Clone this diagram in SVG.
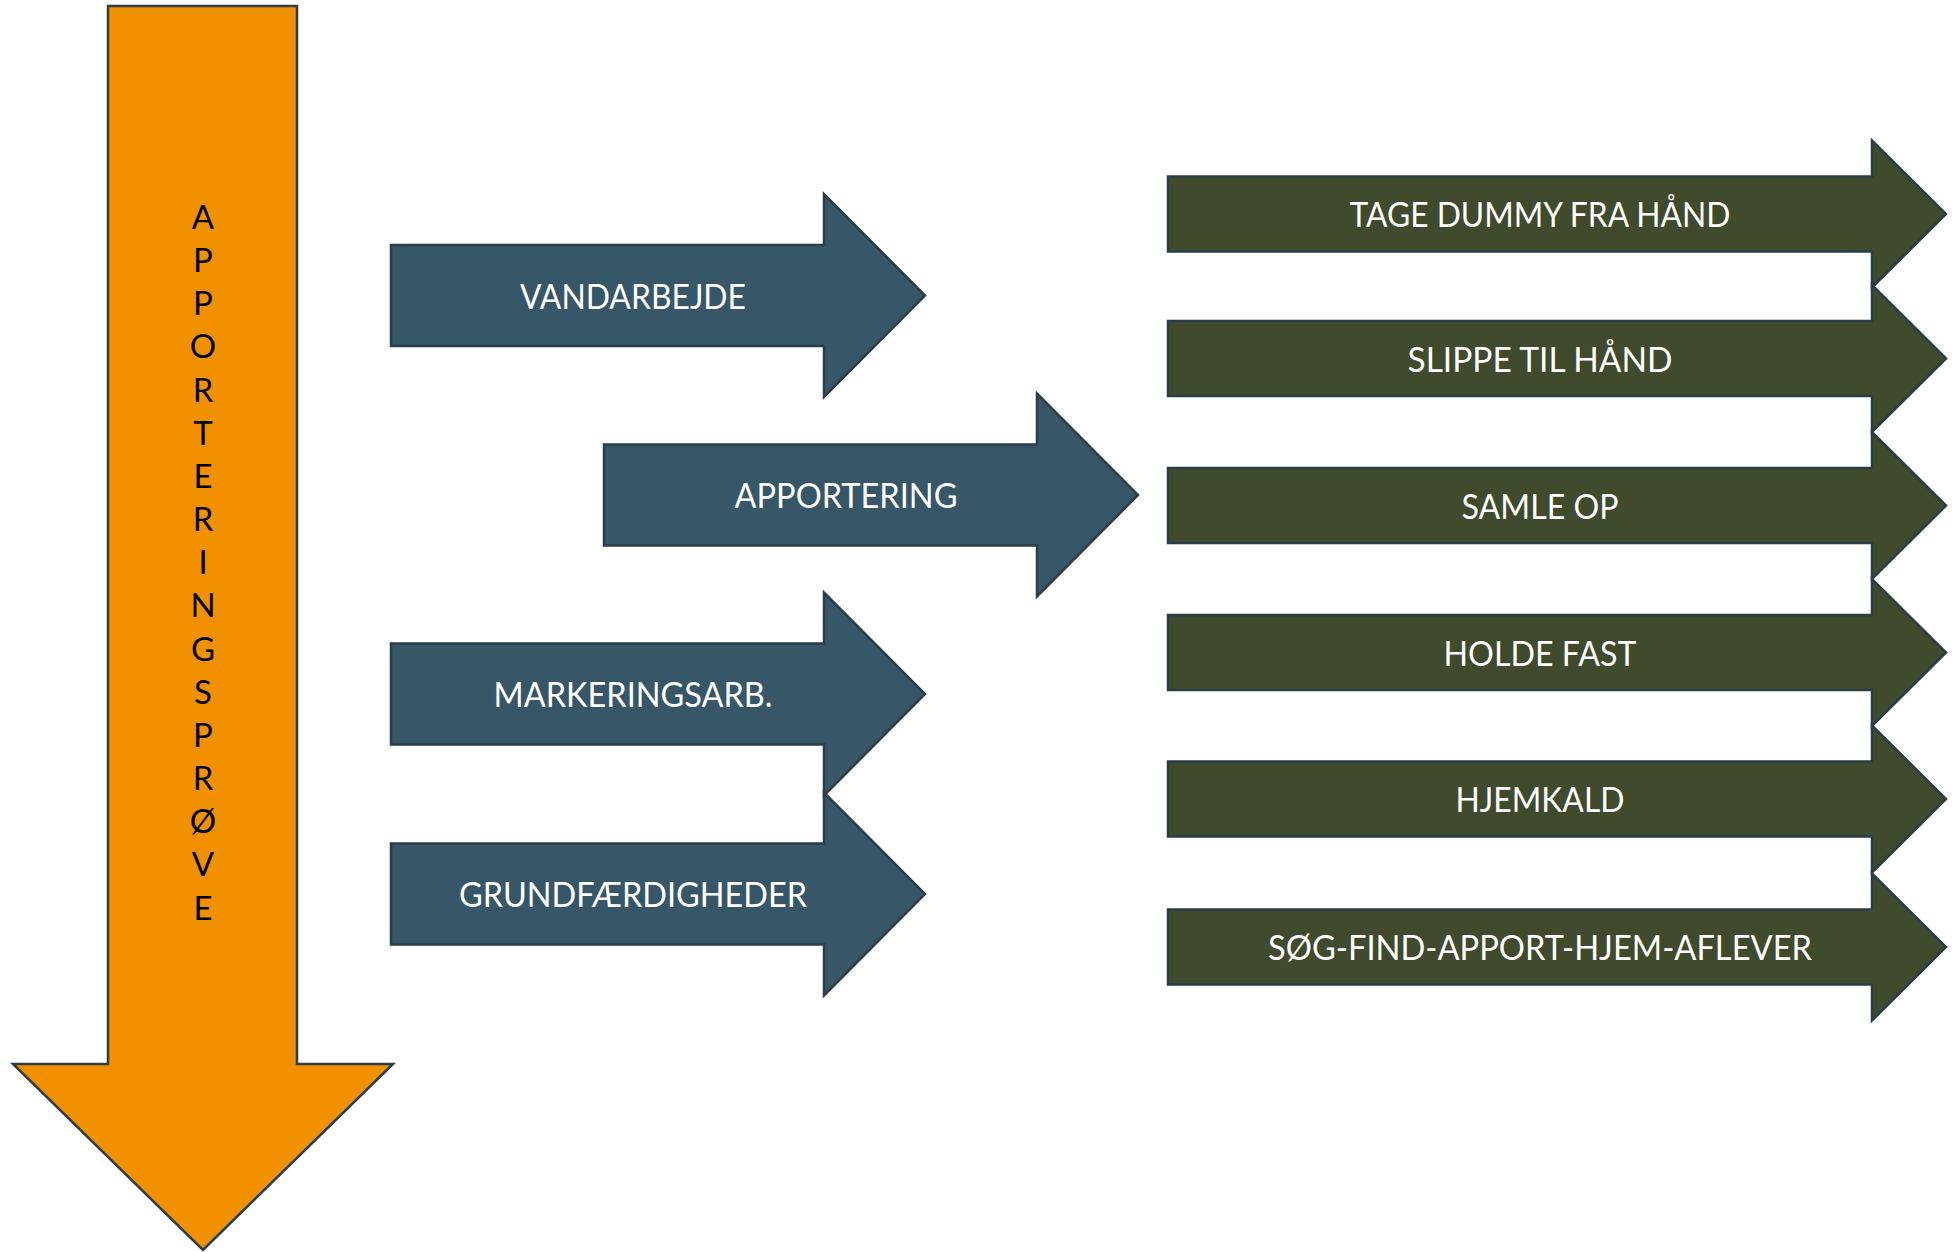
<svg xmlns="http://www.w3.org/2000/svg" xmlns:xlink="http://www.w3.org/1999/xlink" width="1952" height="1252" viewBox="0 0 1952 1252">
<style>
.shape{stroke:#2b3d48;stroke-width:2.5;stroke-linejoin:miter}
.blue{fill:#375768}
.green{fill:#404a2c}
.orange{fill:#f29100}
.lbl{font-family:Lato,"Open Sans","Liberation Sans",sans-serif;fill:#ffffff;text-anchor:middle}
.blbl{font-size:35px}
.glbl{font-size:34px}
.vlbl{font-family:Lato,"Open Sans","Liberation Sans",sans-serif;font-size:33px;fill:#000000;text-anchor:middle}
</style>
<defs>
<path id="blueArrow" d="M0,-50.5 H433 V-101.5 L534,0 L433,101.5 V50.5 H0 Z"/>
<path id="greenArrow" d="M0,-37.5 H704 V-73.5 L778,0 L704,73.5 V37.5 H0 Z"/>
</defs>
<g id="connectors"></g>
<g id="apporteringsprove">
<path class="shape orange" d="M108,6 H297 V1064 H393 L203,1250 L13,1064 H108 Z"/>
<text class="vlbl"><tspan x="203" y="229">A</tspan><tspan x="203" dy="43.16">P</tspan><tspan x="203" dy="43.16">P</tspan><tspan x="203" dy="43.16">O</tspan><tspan x="203" dy="43.16">R</tspan><tspan x="203" dy="43.16">T</tspan><tspan x="203" dy="43.16">E</tspan><tspan x="203" dy="43.16">R</tspan><tspan x="203" dy="43.16">I</tspan><tspan x="203" dy="43.16">N</tspan><tspan x="203" dy="43.16">G</tspan><tspan x="203" dy="43.16">S</tspan><tspan x="203" dy="43.16">P</tspan><tspan x="203" dy="43.16">R</tspan><tspan x="203" dy="43.16">Ø</tspan><tspan x="203" dy="43.16">V</tspan><tspan x="203" dy="43.16">E</tspan></text>
</g>
<g id="vandarbejde">
<use href="#blueArrow" xlink:href="#blueArrow" class="shape blue" x="391" y="295.5"/>
<text class="lbl blbl" x="633" y="308.5" textLength="226" lengthAdjust="spacingAndGlyphs">VANDARBEJDE</text>
</g>
<g id="apportering">
<use href="#blueArrow" xlink:href="#blueArrow" class="shape blue" x="604" y="495"/>
<text class="lbl blbl" x="846" y="508" textLength="223" lengthAdjust="spacingAndGlyphs">APPORTERING</text>
</g>
<g id="markeringsarb">
<use href="#blueArrow" xlink:href="#blueArrow" class="shape blue" x="391" y="694"/>
<text class="lbl blbl" x="633" y="707" textLength="279" lengthAdjust="spacingAndGlyphs">MARKERINGSARB.</text>
</g>
<g id="grundfaerdigheder">
<use href="#blueArrow" xlink:href="#blueArrow" class="shape blue" x="391" y="894"/>
<text class="lbl blbl" x="633" y="907" textLength="348" lengthAdjust="spacingAndGlyphs">GRUNDFÆRDIGHEDER</text>
</g>
<g id="tage-dummy">
<use href="#greenArrow" xlink:href="#greenArrow" class="shape green" x="1168" y="214"/>
<text class="lbl glbl" x="1540" y="227" textLength="381" lengthAdjust="spacingAndGlyphs">TAGE DUMMY FRA HÅND</text>
</g>
<g id="slippe">
<use href="#greenArrow" xlink:href="#greenArrow" class="shape green" x="1168" y="358.5"/>
<text class="lbl glbl" x="1540" y="371.5" textLength="265" lengthAdjust="spacingAndGlyphs">SLIPPE TIL HÅND</text>
</g>
<g id="samle-op">
<use href="#greenArrow" xlink:href="#greenArrow" class="shape green" x="1168" y="505.5"/>
<text class="lbl glbl" x="1540" y="518.5" textLength="157" lengthAdjust="spacingAndGlyphs">SAMLE OP</text>
</g>
<g id="holde-fast">
<use href="#greenArrow" xlink:href="#greenArrow" class="shape green" x="1168" y="652.5"/>
<text class="lbl glbl" x="1540" y="665.5" textLength="193" lengthAdjust="spacingAndGlyphs">HOLDE FAST</text>
</g>
<g id="hjemkald">
<use href="#greenArrow" xlink:href="#greenArrow" class="shape green" x="1168" y="799"/>
<text class="lbl glbl" x="1540" y="812" textLength="169" lengthAdjust="spacingAndGlyphs">HJEMKALD</text>
</g>
<g id="soeg-find">
<use href="#greenArrow" xlink:href="#greenArrow" class="shape green" x="1168" y="947"/>
<text class="lbl glbl" x="1540" y="960" textLength="544" lengthAdjust="spacingAndGlyphs">SØG-FIND-APPORT-HJEM-AFLEVER</text>
</g>
</svg>
